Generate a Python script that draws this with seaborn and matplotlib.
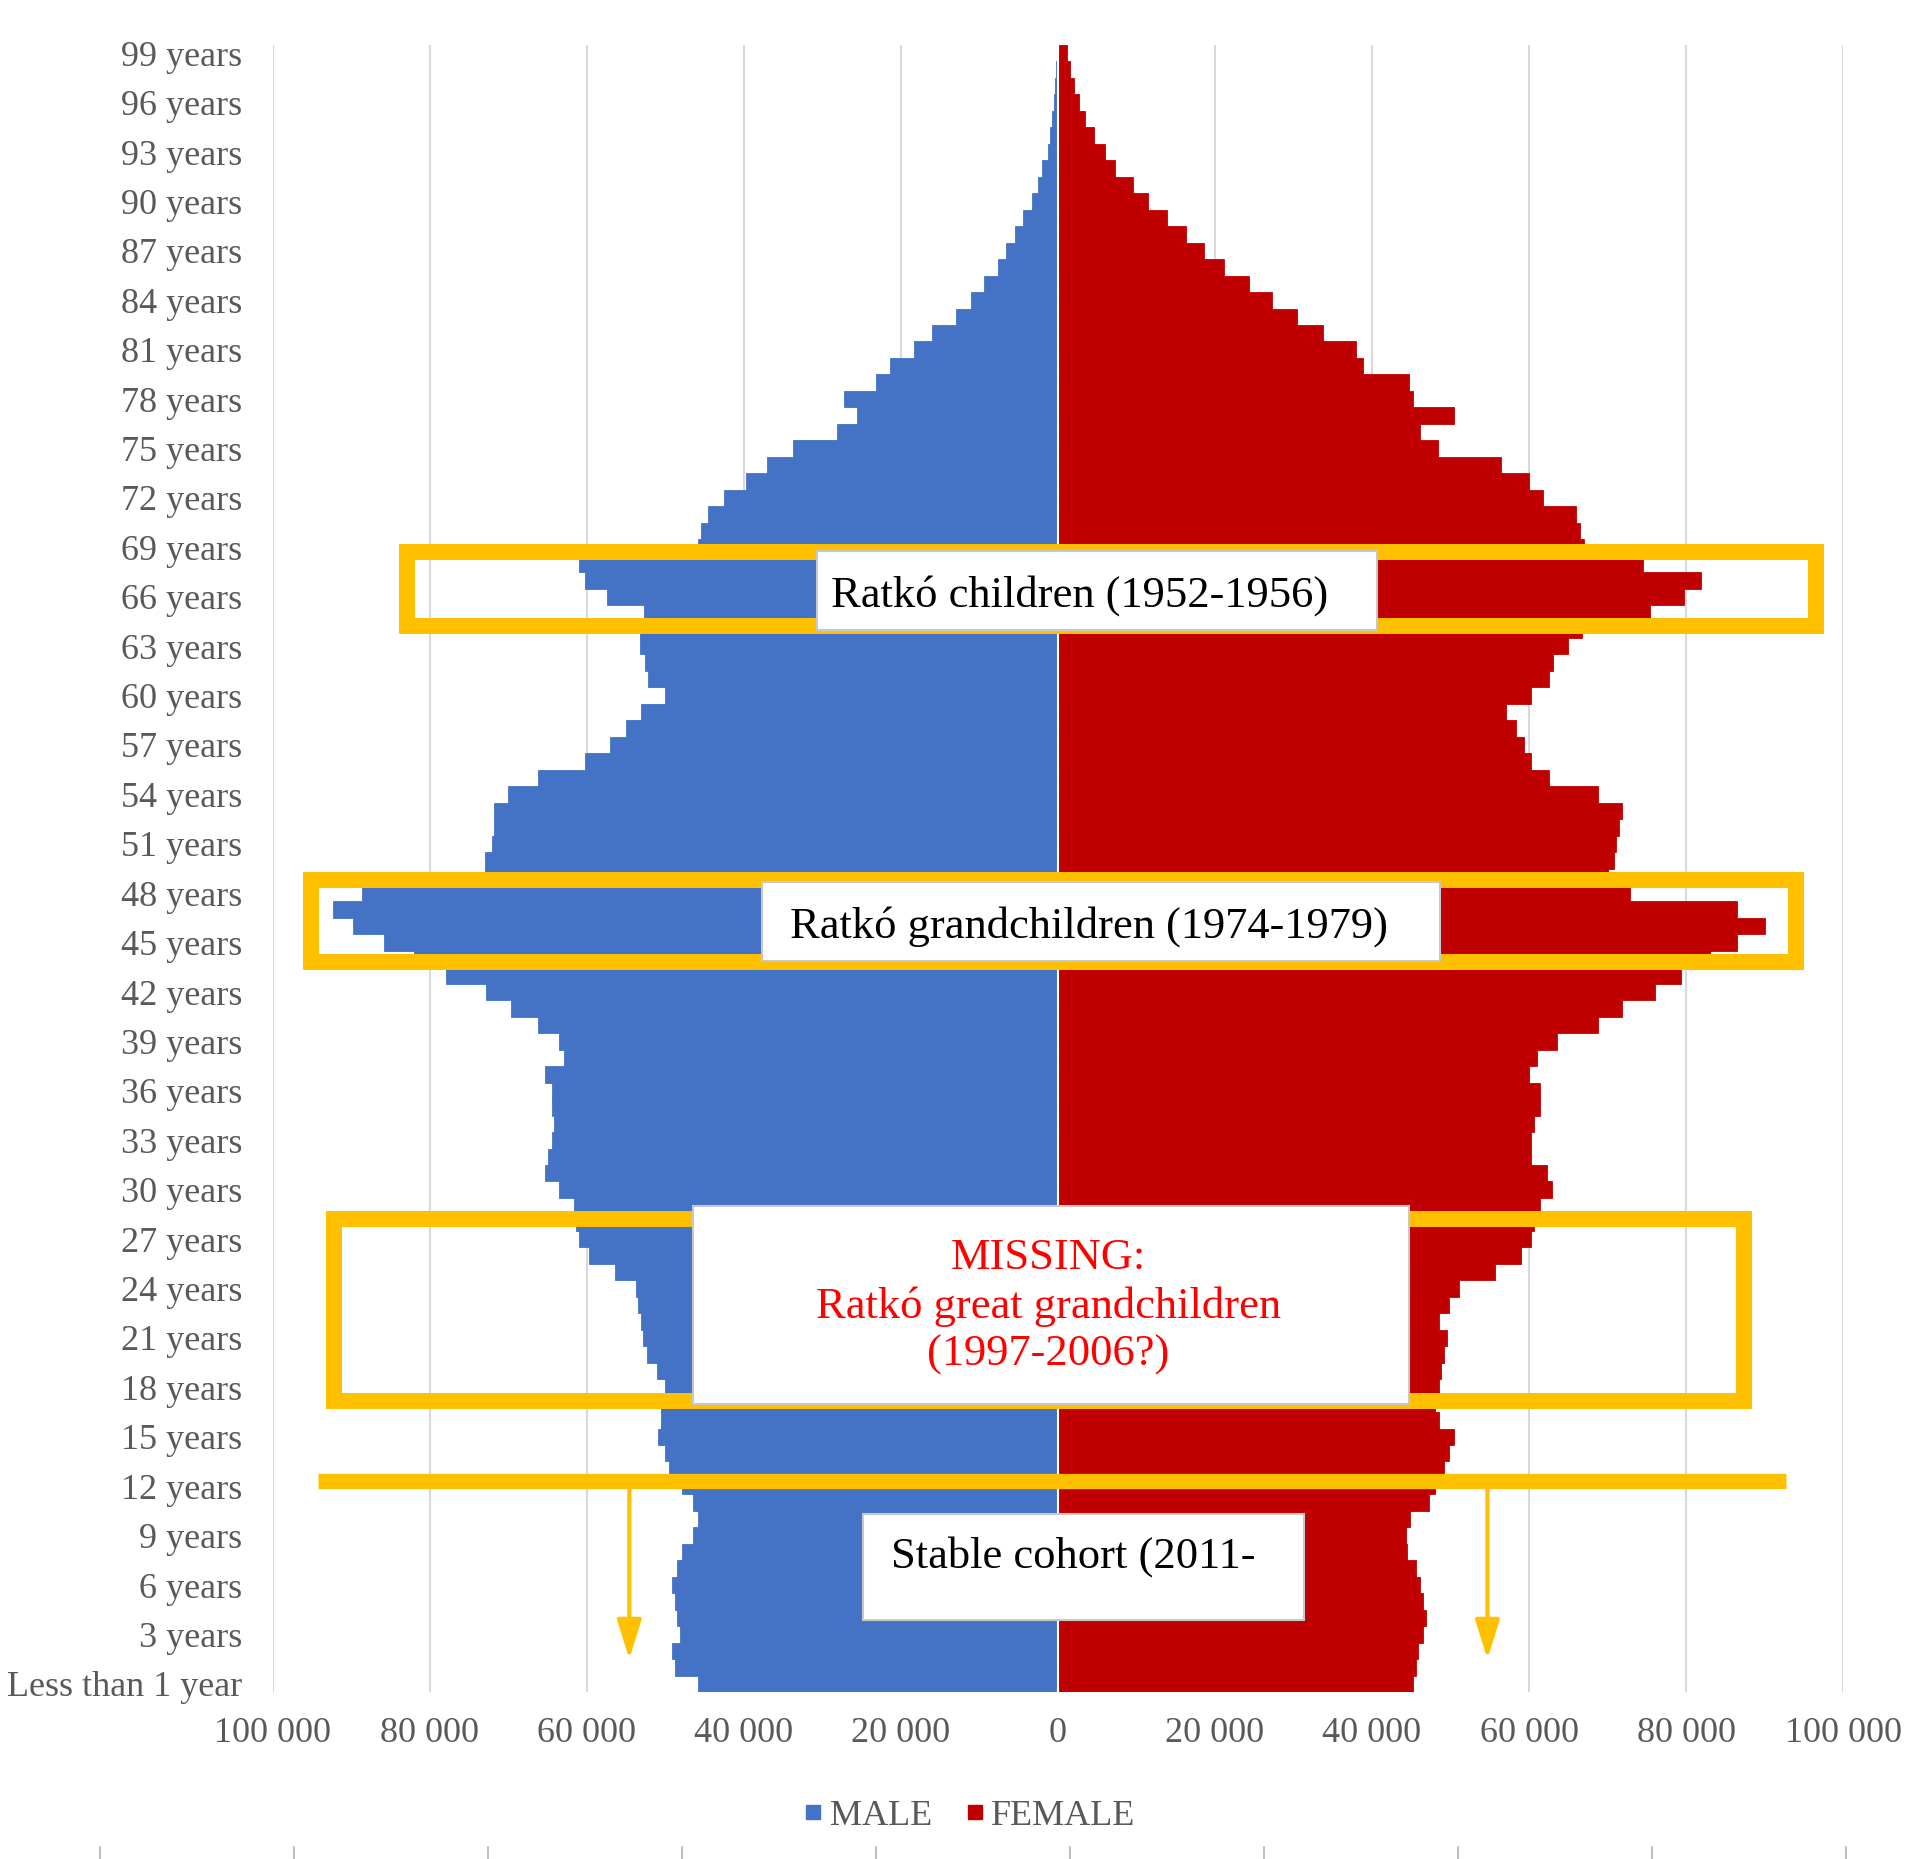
import seaborn as sns
import matplotlib.pyplot as plt
import pandas as pd
import numpy as np
from matplotlib.patches import Rectangle
from matplotlib.lines import Line2D

# Population by single year of age (age 0 .. 99)
age_labels = ['Less than 1 year', '1 year'] + [f'{a} years' for a in range(2, 100)]

male = [45900, 48800, 49200, 48200, 48500, 48800, 49200, 48500, 47900, 46500,
        45900, 46500, 47900, 49600, 50100, 50900, 50500, 50500, 50100, 51100,
        52400, 52800, 53100, 53500, 53800, 56400, 59700, 61000, 61400, 61600,
        63600, 65300, 64900, 64500, 64200, 64500, 64500, 65300, 62900, 63600,
        66200, 69700, 72800, 78000, 82000, 85900, 89800, 92400, 88700, 73000,
        73000, 72100, 71800, 71800, 70100, 66200, 60300, 57000, 55000, 53100,
        50100, 52200, 52600, 53300, 53300, 52700, 57400, 60300, 61000, 45800,
        45500, 44600, 42600, 39700, 37000, 33800, 28200, 25600, 27300, 23200,
        21400, 18400, 16100, 13000, 11100, 9400, 7600, 6600, 5500, 4500,
        3300, 2600, 2000, 1300, 1000, 700, 500, 350, 250, 150]

female = [45200, 45600, 45900, 46500, 46900, 46500, 46100, 45600, 44500, 44300,
          44800, 47200, 48000, 49200, 49800, 50500, 48500, 48000, 48500, 48800,
          49200, 49500, 48500, 49800, 51100, 55700, 59000, 60300, 60600, 61400,
          62900, 62300, 60300, 60300, 60600, 61400, 61400, 60000, 61000, 63600,
          68800, 71800, 76000, 79300, 83000, 86500, 90100, 86500, 72800, 70000,
          70800, 71100, 71400, 71800, 68800, 62600, 60300, 59300, 58300, 57000,
          60300, 62500, 63000, 65000, 66800, 75400, 79700, 81900, 74500, 67000,
          66500, 66000, 61800, 60000, 56400, 48400, 46100, 50500, 45200, 44700,
          38800, 38000, 33700, 30500, 27300, 24300, 21100, 18600, 16300, 13900,
          11500, 9600, 7300, 6000, 4600, 3500, 2700, 2000, 1500, 1100]

x_ticks = [-100000, -80000, -60000, -40000, -20000, 0, 20000, 40000, 60000, 80000, 100000]
x_tick_labels = ['100 000', '80 000', '60 000', '40 000', '20 000', '0',
                 '20 000', '40 000', '60 000', '80 000', '100 000']

colors = {'MALE': '#4472C4', 'FEMALE': '#C00000'}
ORANGE = '#FFC000'

df = pd.DataFrame({
    'age': age_labels * 2,
    'value': [-m for m in male] + female,
    'sex': ['MALE'] * 100 + ['FEMALE'] * 100,
})
order = age_labels[::-1]

sns.set_theme(style='white')
plt.rcParams['font.family'] = ['Liberation Serif', 'DejaVu Serif']

fig = plt.figure(figsize=(19.08, 18.59), dpi=100)
ax = fig.add_axes([0.143, 0.0898, 0.823, 0.886])

sns.barplot(data=df, x='value', y='age', hue='sex', order=order,
            hue_order=['MALE', 'FEMALE'], palette=colors, dodge=False,
            width=1.0, orient='h', saturation=1, errorbar=None,
            legend=False, ax=ax)
for p in ax.patches:
    p.set_edgecolor(p.get_facecolor())
    p.set_linewidth(0.6)

ax.axvline(0, color='white', lw=1.5, zorder=3)

# axes styling
ax.set_xlim(-100000, 100000)
ax.set_ylim(99.5, -0.5)
ax.set_xticks(x_ticks)
ax.set_xticklabels(x_tick_labels)
shown = list(range(0, 100, 3))
ax.set_yticks([99 - a for a in shown])
ax.set_yticklabels([age_labels[a] for a in shown])
ax.set_xlabel('')
ax.set_ylabel('')
ax.xaxis.grid(True, color='#D9D9D9', lw=1.5)
ax.set_axisbelow(True)
for s in ax.spines.values():
    s.set_visible(False)
ax.tick_params(axis='both', length=0, labelsize=26, colors='#595959')
ax.tick_params(axis='x', pad=18)
ax.tick_params(axis='y', pad=22)


def yi(age):
    return 99 - age


# orange frames (x0, x1, top age, bottom age)
frames = [(-82900, 96500, 68.7, 64.2),
          (-95200, 93950, 48.8, 43.8),
          (-92200, 87400, 28.25, 17.16)]
for x0, x1, top, bot in frames:
    ax.add_patch(Rectangle((x0, yi(top)), x1 - x0, top - bot, fill=False,
                           edgecolor=ORANGE, lw=11.5, joinstyle='miter', zorder=4))

# white label boxes
boxes = [(-30700, 40600, 68.8, 64.0),
         (-37700, 48700, 48.7, 43.9),
         (-46500, 44650, 29.0, 17.0),
         (-24800, 31300, 10.3, 3.85)]
for x0, x1, top, bot in boxes:
    ax.add_patch(Rectangle((x0, yi(top)), x1 - x0, top - bot, facecolor='white',
                           edgecolor='#C8C8C8', lw=1.5, zorder=5))

notes = [('Ratkó children (1952-1956)', 2800, 66.1, 'black'),
         ('Ratkó grandchildren (1974-1979)', 3900, 46.0, 'black'),
         ('MISSING:\nRatkó great grandchildren\n(1997-2006?)', -1200, 22.9, '#FF0000'),
         ('Stable cohort (2011-', 1900, 7.7, 'black')]
for txt, x, age, c in notes:
    ax.text(x, yi(age), txt, ha='center', va='center', fontsize=32, color=c,
            linespacing=1.25, zorder=6)

# stable cohort divider with arrows
ax.plot([-94300, 92700], [yi(12.3), yi(12.3)], color=ORANGE, lw=11,
        solid_capstyle='butt', zorder=4)
for x in [-54600, 54700]:
    ax.annotate('', xy=(x, yi(1.5)), xytext=(x, yi(12.3)),
                arrowprops=dict(arrowstyle='-|>,head_length=0.8,head_width=0.25',
                                color=ORANGE, lw=3, mutation_scale=30,
                                shrinkA=0, shrinkB=0), zorder=4)

handles = [Line2D([0], [0], marker='s', color='none', markerfacecolor=colors[k],
                  markeredgecolor=colors[k], markersize=10, label=k)
           for k in ['MALE', 'FEMALE']]
fig.legend(handles=handles, loc='center', bbox_to_anchor=(0.507, 0.023), ncol=2,
           frameon=False, fontsize=26, labelcolor='#595959', handletextpad=0.05,
           columnspacing=0.8, handlelength=0.8)

# faint tick marks of the next figure at the bottom edge
for xp in np.linspace(100, 1846, 10):
    fig.add_artist(Line2D([xp / 1908, xp / 1908], [0, 12 / 1859], color='#BFBFBF',
                          lw=1.5, transform=fig.transFigure))

fig.savefig('out.png', dpi=100)
